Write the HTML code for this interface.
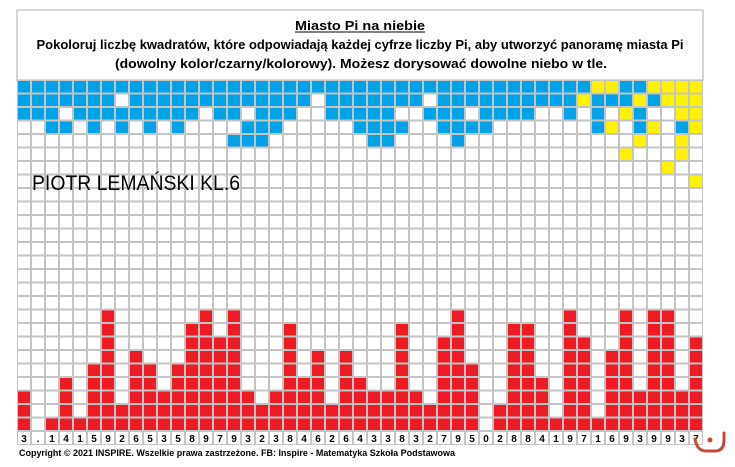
<!DOCTYPE html>
<html><head><meta charset="utf-8">
<style>
html,body{margin:0;padding:0;background:#fff;}
svg{display:block;}
text{font-family:"Liberation Sans",sans-serif;}
</style></head>
<body>
<svg id="s" width="735" height="467" xmlns="http://www.w3.org/2000/svg">
<rect x="17" y="10" width="686" height="70" fill="#fff" stroke="#c8c8c8" stroke-width="1.5"/>
<text x="360" y="30" font-size="13" font-weight="bold" text-anchor="middle" textLength="130" lengthAdjust="spacingAndGlyphs">Miasto Pi na niebie</text>
<line x1="295" y1="32" x2="425" y2="32" stroke="#000" stroke-width="1"/>
<text x="360" y="49" font-size="13" font-weight="bold" text-anchor="middle" textLength="647" lengthAdjust="spacingAndGlyphs">Pokoloruj liczbę kwadratów, które odpowiadają każdej cyfrze liczby Pi, aby utworzyć panoramę miasta Pi</text>
<text x="361" y="68" font-size="13" font-weight="bold" text-anchor="middle" textLength="492" lengthAdjust="spacingAndGlyphs">(dowolny kolor/czarny/kolorowy). Możesz dorysować dowolne niebo w tle.</text>
<g id="g"></g>
<g id="d" font-size="10" font-weight="bold" text-anchor="middle"></g>
<text x="32" y="190" font-size="21" textLength="208" lengthAdjust="spacingAndGlyphs">PIOTR LEMAŃSKI KL.6</text>
<text x="19" y="456" font-size="9" font-weight="bold" textLength="436" lengthAdjust="spacingAndGlyphs">Copyright © 2021 INSPIRE. Wszelkie prawa zastrzeżone. FB: Inspire - Matematyka Szkoła Podstawowa</text>
<path d="M695 439 Q697 451 706 451 L715 451 Q724 451 724 440 L724 433" fill="none" stroke="#c9473a" stroke-width="3" stroke-linecap="round"/>
<circle cx="710" cy="440" r="2.5" fill="#c9473a"/>
</svg>
<script>
var digits=["3",".","1","4","1","5","9","2","6","5","3","5","8","9","7","9","3","2","3","8","4","6","2","6","4","3","3","8","3","2","7","9","5","0","2","8","8","4","1","9","7","1","6","9","3","9","9","3","7"];
var B="#00a2e8",Y="#fff200",R="#ed1c24";
var top={};
function set(r,cols,c){cols.forEach(function(x){top[r+","+x]=c;});}
function range(a,b){var o=[];for(var i=a;i<=b;i++)o.push(i);return o;}
set(0,range(0,40),B);set(0,[41,42,45,46,47,48],Y);set(0,[43,44],B);
set(1,range(0,39).filter(function(c){return c!=7&&c!=21&&c!=29;}),B);set(1,[40,44,46,47,48],Y);set(1,[41,42,43,45],B);
set(2,range(0,36).filter(function(c){return [3,13,16,20,21,27,28,32].indexOf(c)<0;}),B);set(2,[39,41,44],B);set(2,[43,47,48],Y);
set(3,[2,3,5,7,9,11,16,17,18,24,25,26,27,30,31,32,33,41,44,47],B);set(3,[42,45,48],Y);
set(4,[15,16,17,25,26,31],B);set(4,[44,47],Y);
set(5,[43,47],Y);set(6,[46],Y);set(7,[48],Y);
var g=document.getElementById("g"),h="";
var x0=17,y0=80,cw=14,rh=13.5,rows=26;
for(var c=0;c<49;c++){var v=digits[c]=="."?0:+digits[c];
 for(var r=0;r<rows;r++){var f=top[r+","+c]||"#fff";if(r>=rows-v)f=R;
  h+='<rect x="'+(x0+c*cw+1)+'" y="'+(y0+r*rh+1)+'" width="'+(cw-2)+'" height="'+(rh-2)+'" fill="'+f+'"/>';}
}
h='<rect x="'+x0+'" y="'+y0+'" width="'+(49*cw)+'" height="'+(rows*rh+14)+'" fill="#c4c4c4"/>'+h;
for(var c=0;c<49;c++)h+='<rect x="'+(x0+c*cw+1)+'" y="'+(y0+rows*rh+1)+'" width="'+(cw-2)+'" height="12" fill="#fff"/>';
g.innerHTML=h;
var d=document.getElementById("d"),t="";
for(var c=0;c<49;c++)t+='<text x="'+(x0+c*cw+7)+'" y="'+(y0+rows*rh+11)+'">'+digits[c]+'</text>';
d.innerHTML=t;
</script>
</body></html>
